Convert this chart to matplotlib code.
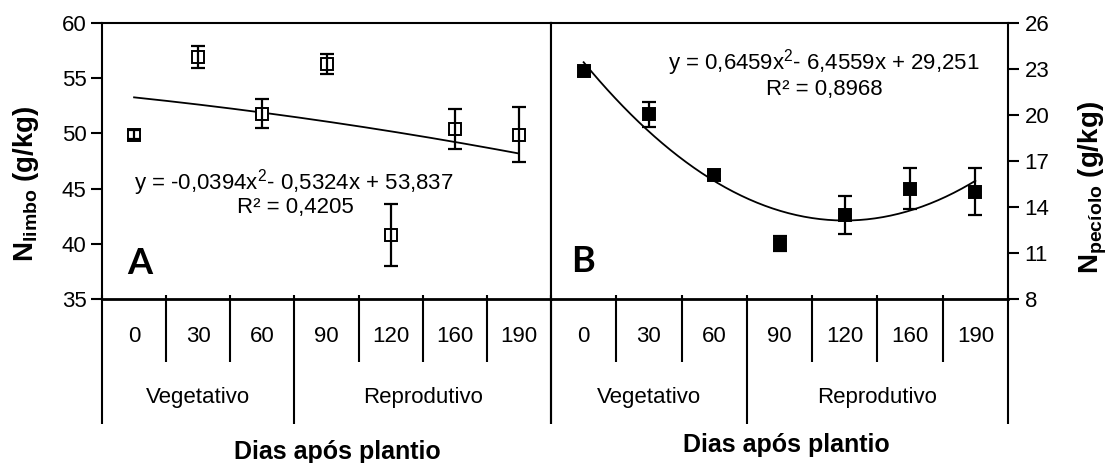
import numpy as np
import matplotlib
matplotlib.use("Agg")
import matplotlib.pyplot as plt
import matplotlib.transforms as mtransforms

plt.rcParams["font.family"] = ["Liberation Sans", "DejaVu Sans"]
plt.rcParams["mathtext.fontset"] = "custom"
plt.rcParams["mathtext.rm"] = "Liberation Sans"
plt.rcParams["mathtext.it"] = "Liberation Sans:italic"
plt.rcParams["mathtext.bf"] = "Liberation Sans:bold"

# Dados
dias = ["0", "30", "60", "90", "120", "160", "190"]
fases = ["Vegetativo", "Reprodutivo"]
n_fase = [3, 4]

n_limbo = [49.9, 56.9, 51.8, 56.3, 40.8, 50.4, 49.9]
err_limbo = [0.4, 1.0, 1.3, 0.9, 2.8, 1.8, 2.5]

n_peciolo = [22.85, 20.05, 16.1, 11.6, 13.5, 15.2, 15.0]
err_peciolo = [0.3, 0.8, 0.25, 0.5, 1.25, 1.35, 1.55]

coef_limbo = [-0.0394, -0.5324, 53.837]
coef_peciolo = [0.6459, -6.4559, 29.251]

eq_limbo = "y = -0,0394x$^{2}$- 0,5324x + 53,837"
r2_limbo = "R² = 0,4205"
eq_peciolo = "y = 0,6459x$^{2}$- 6,4559x + 29,251"
r2_peciolo = "R² = 0,8968"

W, H = 1112, 463
fig = plt.figure(figsize=(W / 100, H / 100), dpi=100)

x0, x_mid, x1 = 102, 551, 1008
y_top, y_bot = 23, 299
bottom = (H - y_bot) / H
height = (y_bot - y_top) / H
ax1 = fig.add_axes([x0 / W, bottom, (x_mid - x0) / W, height])
ax2 = fig.add_axes([x_mid / W, bottom, (x1 - x_mid) / W, height])

x = np.arange(1, len(dias) + 1)
xs = np.linspace(1, len(dias), 200)

fs = 16
ax_h = y_bot - y_top
row1 = -(362 - y_bot) / ax_h
row2 = -(424 - y_bot) / ax_h
lab1 = -(337 - y_bot) / ax_h
lab2 = -(398 - y_bot) / ax_h
tick_up = 4 / ax_h


def desenha(ax, vals, errs, coef, filled):
    ax.plot(xs, np.polyval(coef, xs), color="black", lw=1.3, zorder=2)
    ax.plot(x, vals, "s", ms=8.2, mfc="black" if filled else "white",
            mec="black", mew=1.4, zorder=3)
    # barras de erro por cima dos marcadores, como no original
    ax.errorbar(x, vals, yerr=errs, fmt="none", ecolor="black",
                elinewidth=1.6, capsize=5, capthick=1.6, zorder=4)
    ax.set_xlim(0.5, len(dias) + 0.5)
    ax.set_xticks([])
    for s in ax.spines.values():
        s.set_linewidth(1.5)
    ax.spines["bottom"].set_linewidth(2)

    tr = mtransforms.blended_transform_factory(ax.transData, ax.transAxes)
    # linhas da tabela de categorias
    bordas = [0.5]
    acc = 0
    for n in n_fase:
        acc += n
        bordas.append(acc + 0.5)
    for b in np.arange(0.5, len(dias) + 1, 1.0):
        y_end = row2 if b in bordas else row1
        ax.plot([b, b], [tick_up, y_end], color="black", lw=1.5,
                transform=tr, clip_on=False, solid_capstyle="butt")
    for xi, d in zip(x, dias):
        ax.text(xi, lab1, d, transform=tr, ha="center", va="center", fontsize=fs)
    for i, f in enumerate(fases):
        c = (bordas[i] + bordas[i + 1]) / 2
        ax.text(c, lab2, f, transform=tr, ha="center", va="center", fontsize=fs)


desenha(ax1, n_limbo, err_limbo, coef_limbo, False)
desenha(ax2, n_peciolo, err_peciolo, coef_peciolo, True)

ax1.set_ylim(35, 60)
ax1.set_yticks([35, 40, 45, 50, 55, 60])
ax1.tick_params(axis="y", direction="out", length=8, width=1.5, labelsize=fs, pad=3)

ax2.set_ylim(8, 26)
ax2.set_yticks([8, 11, 14, 17, 20, 23, 26])
ax2.yaxis.tick_right()
ax2.tick_params(axis="y", direction="out", length=8, width=1.5, labelsize=fs, pad=4)

# equações das tendências
ax1.text(294, H - 183, eq_limbo, transform=None, ha="center", va="center", fontsize=fs)
ax1.text(295, H - 208, r2_limbo, transform=None, ha="center", va="center", fontsize=fs)
ax2.text(824, H - 63, eq_peciolo, transform=None, ha="center", va="center", fontsize=fs)
ax2.text(824, H - 89, r2_peciolo, transform=None, ha="center", va="center", fontsize=fs)

# letras dos painéis
fig.text(140 / W, (H - 264) / H, "A", fontsize=26, fontweight="bold",
         family=["Lato", "DejaVu Sans"], ha="center", va="center")
fig.text(583 / W, (H - 262) / H, "B", fontsize=26, fontweight="bold",
         family=["Lato", "DejaVu Sans"], ha="center", va="center")

# rótulos dos eixos
fig.text(26 / W, (H - 184) / H, r"$\mathbf{N_{limbo}}$ (g/kg)", rotation=90,
         fontsize=20, fontweight="bold", ha="center", va="center")
fig.text(1093 / W, (H - 188) / H, r"$\mathbf{N_{pecíolo}}$ (g/kg)", rotation=90,
         fontsize=20, fontweight="bold", ha="center", va="center")

fig.text(337 / W, (H - 452) / H, "Dias após plantio", fontsize=18,
         fontweight="bold", ha="center", va="center")
fig.text(786 / W, (H - 445) / H, "Dias após plantio", fontsize=18,
         fontweight="bold", ha="center", va="center")

fig.savefig("out.png", dpi=100)
